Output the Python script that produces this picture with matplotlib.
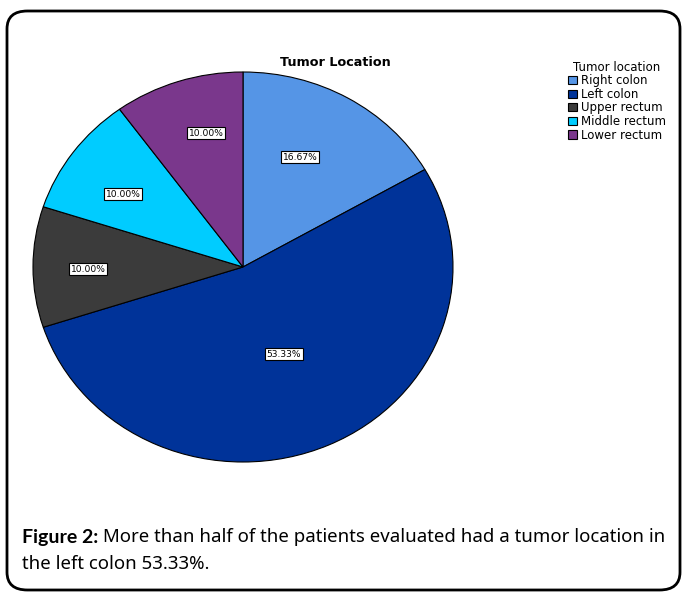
import numpy as np
import matplotlib
matplotlib.use("Agg")
import matplotlib.pyplot as plt
from matplotlib.patches import FancyBboxPatch

categories = ["Right colon", "Left colon", "Upper rectum", "Middle rectum", "Lower rectum"]
values = [16.67, 53.33, 10.00, 10.00, 10.00]
colors = ["#5595E6", "#003399", "#3B3B3B", "#00CCFF", "#7A378C"]
# label placement (layout): radius and angular offset from the wedge mid-angle
label_r = [0.626, 0.487, 0.738, 0.683, 0.709]
label_dang = [4.3, -0.4, 0.8, 2.8, -3.6]

fig = plt.figure(figsize=(6.82, 5.94), dpi=100)
W, H = 682, 594

# frame
frame = FancyBboxPatch((7 / W, 4 / H), 673 / W, 579 / H,
                       boxstyle="round,pad=0,rounding_size=0.03",
                       transform=fig.transFigure, fill=False,
                       edgecolor="black", linewidth=2.0)
fig.patches.append(frame)

cx, cy, rx, ry = 243, 267, 210, 195
ax = fig.add_axes([(cx - rx) / W, 1 - (cy + ry) / H, 2 * rx / W, 2 * ry / H])
wedges, _ = ax.pie(values, colors=colors, startangle=90, counterclock=False,
                   wedgeprops=dict(edgecolor="black", linewidth=0.8))
ax.set_aspect("auto")
ax.set_xlim(-1, 1)
ax.set_ylim(-1, 1)
ax.axis("off")

for w, v, r, da in zip(wedges, values, label_r, label_dang):
    ang = np.deg2rad((w.theta1 + w.theta2) / 2 + da)
    ax.text(r * np.cos(ang), r * np.sin(ang), f"{v:.2f}%", ha="center", va="center",
            fontsize=6.6, family="DejaVu Sans",
            bbox=dict(boxstyle="square,pad=0.2", facecolor="white",
                      edgecolor="black", linewidth=0.8))

fig.text(335 / W, 1 - 63 / H, "Tumor Location", ha="center", va="center",
         fontsize=9.2, fontweight="bold", family="DejaVu Sans")

leg = fig.legend(wedges, categories, title="Tumor location", loc="upper left",
                 bbox_to_anchor=(563 / W, 1 - 56 / H), frameon=False,
                 fontsize=8.5, title_fontsize=8.5, handlelength=0.8,
                 handleheight=0.7, handletextpad=0.35, labelspacing=0.05,
                 borderpad=0.1, borderaxespad=0.3)

cap_size = 13.4
t1 = fig.text(22 / W, 1 - 537 / H, "Figure 2:", fontsize=14, va="center",
              family="Lato", fontweight="bold")
fig.canvas.draw()
bb = t1.get_window_extent()
fig.text(bb.x1 / W + 5 / W, 1 - 537 / H,
         "More than half of the patients evaluated had a tumor location in",
         fontsize=cap_size, va="center", family="Noto Sans")
fig.text(22 / W, 1 - 564 / H, "the left colon 53.33%.", fontsize=cap_size,
         va="center", family="Noto Sans")

fig.savefig("out.png", dpi=100)
